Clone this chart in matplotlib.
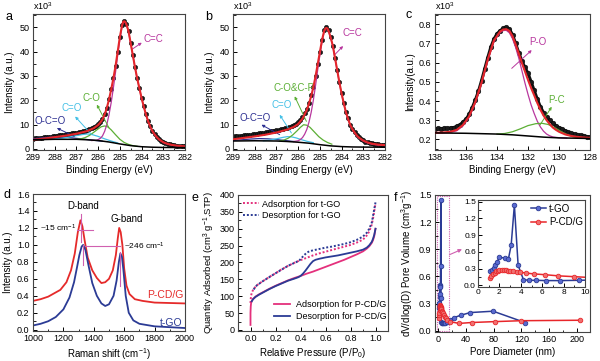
import numpy as np
import matplotlib
matplotlib.use("Agg")
import matplotlib.pyplot as plt
from matplotlib.ticker import MultipleLocator
from matplotlib.patches import Rectangle

plt.rcParams['font.family'] = ['Liberation Sans', 'DejaVu Sans']
plt.rcParams['mathtext.fontset'] = 'custom'
plt.rcParams['mathtext.rm'] = 'Liberation Sans'
plt.rcParams['mathtext.it'] = 'Liberation Sans:italic'
plt.rcParams['font.size'] = 7
plt.rcParams['axes.linewidth'] = 0.8

# ---------------- data: panel a (C1s, t-GO) ----------------
a_be = np.round(np.arange(289.0, 281.95, -0.1), 1)
a_dots = [4.2, 4.3, 4.4, 4.5, 4.6, 4.7, 4.8, 4.9, 5.05, 5.2,
          5.3, 5.45, 5.55, 5.7, 5.8, 5.95, 6.1, 6.25, 6.4, 6.55,
          6.7, 6.85, 7.05, 7.25, 7.5, 7.7, 8.0, 8.4, 8.8, 9.4,
          10.1, 11.0, 12.3, 14.3, 17.0, 20.5, 24.5, 29.0, 34.0, 40.0,
          46.0, 51.0, 52.6, 51.5, 48.5, 43.5, 38.5, 33.5, 29.0, 25.0,
          21.0, 17.5, 14.3, 11.5, 9.2, 7.4, 6.0, 4.9, 4.0, 3.3,
          2.8, 2.4, 2.1, 1.85, 1.65, 1.5, 1.35, 1.25, 1.15, 1.05, 1.0]
a_fit_x = [289, 288.5, 288, 287.5, 287, 286.5, 286.2, 286.0, 285.9, 285.8,
           285.7, 285.6, 285.5, 285.4, 285.3, 285.2, 285.1, 285.0, 284.9, 284.85,
           284.8, 284.75, 284.7, 284.6, 284.5, 284.4, 284.3, 284.2, 284.1, 284.0,
           283.9, 283.8, 283.7, 283.6, 283.5, 283.4, 283.3, 283.2, 283.0, 282.8,
           282.6, 282.3, 282.0]
a_fit_y = [3.7, 4.2, 4.8, 5.4, 6.2, 7.3, 8.5, 9.8, 10.8, 12.1,
           14.1, 16.8, 20.3, 24.4, 28.9, 34.0, 40.0, 46.0, 50.8, 52.2,
           52.5, 52.2, 51.3, 48.4, 43.4, 38.4, 33.4, 28.9, 24.9, 20.9,
           17.4, 14.2, 11.4, 9.1, 7.3, 5.9, 4.8, 3.9, 2.7, 2.0,
           1.6, 1.2, 1.0]
a_cc_x = [286.3, 286.1, 286.0, 285.9, 285.8, 285.7, 285.6, 285.5, 285.4, 285.3,
          285.2, 285.1, 285.0, 284.9, 284.85, 284.8, 284.75, 284.7, 284.6, 284.5,
          284.4, 284.3, 284.2, 284.1, 284.0, 283.9, 283.8, 283.7, 283.6, 283.5,
          283.4, 283.3, 283.2, 283.0, 282.8, 282.6, 282.3, 282.0]
a_cc_y = [3.4, 3.5, 3.8, 4.3, 5.3, 7.2, 10.0, 14.0, 19.0, 25.0,
          31.5, 38.5, 45.0, 50.3, 52.0, 52.4, 52.1, 51.2, 48.3, 43.3,
          38.3, 33.3, 28.8, 24.8, 20.8, 17.3, 14.1, 11.3, 9.0, 7.2,
          5.8, 4.7, 3.8, 2.6, 1.9, 1.5, 1.1, 0.9]
a_co_x = [287.0, 286.8, 286.6, 286.4, 286.2, 286.0, 285.85, 285.7, 285.55, 285.4,
          285.2, 285.0, 284.8, 284.6, 284.4, 284.2]
a_co_y = [3.9, 4.1, 4.6, 5.5, 6.8, 8.2, 9.1, 9.4, 9.0, 7.8, 5.8, 3.9, 2.6, 1.8, 1.3, 1.0]
a_c2o_x = [288.2, 287.8, 287.4, 287.0, 286.7, 286.5, 286.3, 286.0, 285.7, 285.4, 285.1]
a_c2o_y = [3.9, 4.2, 4.7, 5.4, 5.9, 6.1, 5.9, 5.1, 4.1, 3.2, 2.4]
a_occo_x = [289.0, 288.6, 288.2, 287.8, 287.4, 287.0, 286.6, 286.2, 285.8]
a_occo_y = [4.1, 4.5, 4.8, 4.9, 4.7, 4.3, 3.9, 3.5, 3.1]
a_bg_x = [289, 288, 287, 286.5, 286, 285.5, 285, 284.5, 284, 283.5, 283, 282]
a_bg_y = [3.7, 3.9, 3.9, 3.7, 3.4, 2.8, 2.0, 1.3, 0.85, 0.65, 0.55, 0.5]

# ---------------- data: panel b (C1s, P-CD/G) ----------------
b_be = np.round(np.arange(289.0, 281.95, -0.1), 1)
b_dots = [5.0, 5.1, 5.2, 5.3, 5.4, 5.5, 5.6, 5.7, 5.85, 6.0,
          6.1, 6.25, 6.4, 6.55, 6.7, 6.85, 7.0, 7.15, 7.3, 7.45,
          7.6, 7.8, 8.0, 8.2, 8.45, 8.7, 9.0, 9.4, 9.8, 10.3,
          10.9, 11.8, 13.0, 14.7, 16.5, 19.0, 22.0, 25.5, 30.0, 35.0,
          40.0, 45.0, 48.8, 50.0, 48.8, 46.0, 42.5, 37.5, 32.5, 27.5,
          23.0, 19.0, 15.3, 12.5, 10.0, 8.3, 6.9, 5.7, 4.8, 4.1,
          3.5, 3.0, 2.7, 2.4, 2.2, 2.0, 1.9, 1.8, 1.7, 1.65, 1.6]
b_fit_x = [289, 288.5, 288, 287.5, 287, 286.5, 286.2, 286.0, 285.8, 285.6,
           285.5, 285.4, 285.3, 285.2, 285.1, 285.0, 284.9, 284.8, 284.75, 284.7,
           284.65, 284.6, 284.5, 284.4, 284.3, 284.2, 284.1, 284.0, 283.9, 283.8,
           283.7, 283.6, 283.5, 283.4, 283.3, 283.2, 283.0, 282.8, 282.6, 282.3,
           282.0]
b_fit_y = [3.9, 4.5, 5.1, 5.8, 6.7, 7.9, 9.0, 10.2, 12.4, 16.0,
           18.6, 21.7, 25.3, 29.8, 34.8, 39.8, 44.8, 48.6, 49.5, 49.8,
           49.5, 48.6, 45.8, 42.3, 37.3, 32.3, 27.3, 22.8, 18.8, 15.1,
           12.3, 9.8, 8.1, 6.7, 5.5, 4.6, 3.4, 2.6, 2.1, 1.7,
           1.5]
b_cc_x = [286.2, 286.0, 285.9, 285.8, 285.7, 285.6, 285.5, 285.4, 285.3, 285.2,
          285.1, 285.0, 284.9, 284.8, 284.75, 284.7, 284.65, 284.6, 284.5, 284.4,
          284.3, 284.2, 284.1, 284.0, 283.9, 283.8, 283.7, 283.6, 283.5, 283.4,
          283.3, 283.2, 283.0, 282.8, 282.6, 282.3, 282.0]
b_cc_y = [3.0, 3.3, 3.8, 4.6, 6.0, 8.0, 11.0, 15.0, 20.0, 26.0,
          32.5, 38.5, 44.0, 48.3, 49.3, 49.6, 49.3, 48.4, 45.6, 42.1,
          37.1, 32.1, 27.1, 22.6, 18.6, 14.9, 12.1, 9.6, 7.9, 6.5,
          5.3, 4.4, 3.2, 2.4, 1.9, 1.5, 1.3]
b_co_x = [286.85, 286.65, 286.45, 286.25, 286.05, 285.9, 285.75, 285.6, 285.45, 285.25,
          285.05, 284.85, 284.65, 284.45]
b_co_y = [3.2, 3.6, 4.4, 5.7, 7.4, 8.8, 9.9, 9.7, 8.8, 6.9, 5.0, 3.6, 2.6, 1.9]
b_c2o_x = [287.6, 287.3, 287.0, 286.7, 286.5, 286.3, 286.1, 285.9, 285.6, 285.3]
b_c2o_y = [3.3, 3.6, 4.1, 4.7, 5.0, 4.9, 4.5, 3.9, 3.1, 2.5]
b_occo_x = [289.0, 288.6, 288.2, 287.8, 287.4, 287.0, 286.6, 286.2]
b_occo_y = [3.4, 3.7, 4.0, 4.2, 4.1, 3.8, 3.4, 3.0]
b_bg_x = [289, 288, 287, 286.5, 286, 285.5, 285, 284.5, 284, 283.5, 283, 282]
b_bg_y = [3.2, 3.3, 3.2, 3.0, 2.7, 2.3, 1.7, 1.2, 0.9, 0.75, 0.7, 0.65]

# ---------------- data: panel c (P2p) ----------------
c_be = np.round(np.arange(138.0, 127.95, -0.2), 1)
c_dots = [0.255, 0.257, 0.256, 0.258, 0.257, 0.260, 0.262, 0.268, 0.276, 0.290,
          0.305, 0.330, 0.365, 0.405, 0.450, 0.505, 0.565, 0.625, 0.680, 0.722,
          0.750, 0.766, 0.778, 0.783, 0.775, 0.745, 0.700, 0.652, 0.610, 0.575,
          0.545, 0.500, 0.455, 0.410, 0.370, 0.340, 0.318, 0.300, 0.285, 0.272,
          0.262, 0.254, 0.245, 0.237, 0.232, 0.228, 0.224, 0.221, 0.218, 0.215, 0.212]
c_fit_x = [138, 137.5, 137, 136.6, 136.2, 135.8, 135.4, 135.0, 134.6, 134.2,
           133.8, 133.6, 133.4, 133.2, 133.0, 132.8, 132.6, 132.4, 132.2, 132.0,
           131.8, 131.6, 131.4, 131.2, 131.0, 130.8, 130.6, 130.4, 130.2, 130.0,
           129.6, 129.2, 128.8, 128.4, 128.0]
c_fit_y = [0.234, 0.236, 0.240, 0.250, 0.275, 0.320, 0.395, 0.495, 0.615, 0.715,
           0.762, 0.772, 0.774, 0.765, 0.738, 0.695, 0.648, 0.600, 0.555, 0.510,
           0.468, 0.430, 0.390, 0.355, 0.325, 0.300, 0.280, 0.262, 0.250, 0.240,
           0.226, 0.218, 0.213, 0.210, 0.208]
c_po_x = [138, 137.5, 137, 136.6, 136.2, 135.8, 135.4, 135.0, 134.6, 134.2,
          133.8, 133.6, 133.4, 133.2, 133.0, 132.8, 132.6, 132.4, 132.2, 132.0,
          131.8, 131.6, 131.4, 131.2, 131.0, 130.8, 130.6, 130.4, 130.0, 129.5]
c_po_y = [0.233, 0.234, 0.237, 0.245, 0.270, 0.315, 0.390, 0.490, 0.610, 0.710,
          0.757, 0.767, 0.768, 0.755, 0.725, 0.680, 0.625, 0.560, 0.495, 0.435,
          0.380, 0.335, 0.295, 0.265, 0.243, 0.228, 0.219, 0.213, 0.209, 0.207]
c_pc_x = [134.0, 133.5, 133.0, 132.5, 132.0, 131.5, 131.1, 130.7, 130.3, 129.9,
          129.5, 129.1, 128.8]
c_pc_y = [0.228, 0.231, 0.240, 0.255, 0.272, 0.282, 0.284, 0.278, 0.262, 0.243,
          0.226, 0.214, 0.209]
c_bg_x = [138, 136, 134, 133, 132, 131, 130, 128]
c_bg_y = [0.234, 0.232, 0.228, 0.224, 0.218, 0.212, 0.208, 0.205]

# ---------------- data: panel d (Raman) ----------------
d_pcd_x = [1000, 1050, 1100, 1150, 1180, 1220, 1250, 1275, 1295, 1312,
           1325, 1340, 1360, 1390, 1420, 1450, 1475, 1500, 1525, 1545,
           1558, 1567, 1577, 1588, 1600, 1615, 1635, 1670, 1720, 1800,
           1900, 2000]
d_pcd_y = [0.34, 0.36, 0.39, 0.44, 0.47, 0.56, 0.70, 0.90, 1.15, 1.29,
           1.22, 1.05, 0.85, 0.70, 0.61, 0.55, 0.56, 0.60, 0.70, 0.88,
           1.08, 1.20, 1.15, 1.00, 0.72, 0.52, 0.42, 0.36, 0.34, 0.32,
           0.315, 0.31]
d_tgo_x = [1000, 1050, 1100, 1150, 1200, 1240, 1270, 1290, 1305, 1320,
           1330, 1345, 1365, 1390, 1420, 1450, 1475, 1500, 1530, 1550,
           1565, 1575, 1585, 1595, 1610, 1630, 1660, 1700, 1800, 1900,
           2000]
d_tgo_y = [0.05, 0.07, 0.10, 0.15, 0.24, 0.38, 0.56, 0.74, 0.88, 0.98,
           1.00, 0.94, 0.76, 0.55, 0.40, 0.31, 0.28, 0.30, 0.40, 0.58,
           0.80, 0.90, 0.86, 0.70, 0.40, 0.20, 0.11, 0.07, 0.04, 0.03,
           0.02]

# ---------------- data: panel e (N2 isotherms) ----------------
e_ads_tgo_p = [0.0, 0.002, 0.005, 0.01, 0.02, 0.035, 0.05, 0.075, 0.1, 0.15,
               0.2, 0.25, 0.3, 0.35, 0.4, 0.45, 0.5, 0.55, 0.6, 0.65,
               0.7, 0.75, 0.8, 0.85, 0.9, 0.93, 0.95, 0.97, 0.98, 0.99, 1.0]
e_ads_tgo_q = [80, 92, 102, 110, 118, 126, 132, 139, 145, 157,
               168, 180, 190, 199, 207, 214, 221, 227, 232, 237,
               242, 247, 252, 259, 268, 280, 292, 312, 330, 352, 375]
e_des_tgo_p = [1.0, 0.99, 0.98, 0.97, 0.95, 0.93, 0.9, 0.85, 0.8, 0.75,
               0.7, 0.65, 0.6, 0.55, 0.5, 0.47, 0.45, 0.43, 0.41, 0.39,
               0.37, 0.3, 0.2, 0.1, 0.05, 0.02]
e_des_tgo_q = [378, 358, 338, 318, 300, 288, 277, 267, 260, 255,
               251, 247, 244, 240, 236, 233, 229, 222, 214, 206,
               202, 190, 168, 145, 132, 118]
e_ads_pcd_p = [0.0, 0.0, 0.002, 0.005, 0.01, 0.02, 0.04, 0.07, 0.1, 0.15,
               0.2, 0.25, 0.3, 0.35, 0.4, 0.45, 0.5, 0.55, 0.6, 0.65,
               0.7, 0.75, 0.8, 0.85, 0.9, 0.93, 0.95, 0.97, 0.98, 0.99, 1.0]
e_ads_pcd_q = [15, 50, 70, 80, 86, 92, 99, 106, 112, 122,
               131, 139, 147, 154, 160, 167, 173, 180, 187, 194,
               201, 208, 216, 224, 233, 241, 248, 258, 266, 278, 300]
e_des_pcd_p = [1.0, 0.99, 0.98, 0.97, 0.95, 0.93, 0.9, 0.85, 0.8, 0.75,
               0.7, 0.65, 0.6, 0.55, 0.52, 0.5, 0.48, 0.46, 0.44, 0.42,
               0.40, 0.38, 0.35, 0.3, 0.25, 0.2, 0.15, 0.1, 0.07, 0.04,
               0.02, 0.01]
e_des_pcd_q = [300, 282, 270, 261, 251, 244, 238, 233, 229, 225,
               221, 218, 215, 211, 208, 204, 196, 186, 176, 167,
               160, 156, 152, 146, 138, 130, 121, 111, 105, 98,
               91, 85]

# ---------------- data: panel f (pore size distribution) ----------------
f_tgo_d = [1.15, 1.3, 1.45, 1.6, 1.75, 2.0, 2.55, 2.85, 3.1, 3.4,
           3.75, 4.25, 4.8, 5.4, 6.4, 7.7, 9.4, 12, 17, 23,
           32, 46, 79, 125]
f_tgo_v = [0.25, 0.28, 0.31, 0.37, 0.41, 0.50, 0.49, 0.48, 0.72, 1.44,
           0.36, 0.10, 0.09, 0.09, 0.085, 0.085, 0.09, 0.10, 0.12, 0.145,
           0.17, 0.20, 0.215, 0.09]
f_pcd_d = [1.1, 1.25, 1.4, 1.55, 1.7, 1.85, 2.0, 2.2, 2.4, 2.6,
           2.8, 3.0, 3.3, 3.6, 3.9, 4.5, 5.2, 6.3, 7.5, 9.0,
           10.5, 13, 16, 30, 48, 82, 120, 205]
f_pcd_v = [0.14, 0.17, 0.20, 0.23, 0.25, 0.265, 0.275, 0.28, 0.275, 0.27,
           0.265, 0.26, 0.25, 0.245, 0.235, 0.22, 0.205, 0.19, 0.17, 0.155,
           0.14, 0.12, 0.10, 0.08, 0.09, 0.10, 0.11, 0.115]

# ---------------- colours ----------------
RED = '#e3262b'
MAG = '#b8379e'
GRN = '#5caf35'
CYN = '#45c0e6'
NAV = '#2e3192'
PINK = '#e4307c'
BLUE = '#2b3b95'

W, H = 600, 361
fig = plt.figure(figsize=(6, 3.61), dpi=100)


def box(l, t, r, b):
    return [l / W, 1 - b / H, (r - l) / W, (b - t) / H]


def style(ax, xmaj, xmin, ymaj, ymin, ls=6.5):
    ax.xaxis.set_major_locator(MultipleLocator(xmaj))
    ax.xaxis.set_minor_locator(MultipleLocator(xmin))
    ax.yaxis.set_major_locator(MultipleLocator(ymaj))
    ax.yaxis.set_minor_locator(MultipleLocator(ymin))
    ax.tick_params(which='both', direction='in', top=False, right=False,
                   labelsize=ls)
    ax.tick_params(axis='x', pad=2.5)
    ax.tick_params(axis='y', pad=2.5)
    ax.tick_params(which='major', length=3, width=0.7)
    ax.tick_params(which='minor', length=1.8, width=0.6)
    for s in ax.spines.values():
        s.set_color('#444444')


def arrow(ax, xy_from, xy_to, color):
    ax.annotate('', xy=xy_to, xytext=xy_from,
                arrowprops=dict(arrowstyle='-|>', color=color, lw=0.7,
                                mutation_scale=4, shrinkA=0, shrinkB=0))


def xps(ax, be, dots, comps, fitx, fity, bgx, bgy):
    ax.plot(be, dots, 'o', ms=3.2, mfc='#1a1a1a', mec='#000000', mew=0.3, zorder=2)
    for (cx, cy, col) in comps:
        ax.plot(cx, cy, color=col, lw=0.9, zorder=3)
    ax.plot(fitx, fity, color=RED, lw=1.5, zorder=4)
    ax.plot(bgx, bgy, color='k', lw=1.1, zorder=5)


# ---------------- panel a ----------------
ax = fig.add_axes(box(33, 14, 185, 150))
xps(ax, a_be, a_dots,
    [(a_occo_x, a_occo_y, NAV), (a_c2o_x, a_c2o_y, CYN), (a_co_x, a_co_y, GRN),
     (a_cc_x, a_cc_y, MAG)],
    a_fit_x, a_fit_y, a_bg_x, a_bg_y)
ax.set_xlim(289, 282)
ax.set_ylim(-0.5, 55.5)
style(ax, 1, 0.5, 10, 5)
ax.set_xlabel('Binding Energy (eV)', fontsize=7, labelpad=2)
ax.set_ylabel('Intensity (a.u.)', fontsize=7, labelpad=3)
ax.text(0, 1.015, r'x10$^3$', transform=ax.transAxes, fontsize=6.5, ha='left', va='bottom')
ax.text(283.9, 45, 'C=C', color=MAG, fontsize=7, ha='left', va='center')
arrow(ax, (284.45, 40.9), (283.99, 43.7), MAG)
ax.text(286.3, 21, 'C-O', color=GRN, fontsize=7, ha='center', va='center')
arrow(ax, (285.5, 8.6), (286.06, 18.2), GRN)
ax.text(287.2, 16.8, 'C=O', color=CYN, fontsize=7, ha='center', va='center')
arrow(ax, (286.3, 5.8), (287.06, 13.3), CYN)
ax.text(288.2, 11.3, 'O-C=O', color=NAV, fontsize=7, ha='center', va='center')
arrow(ax, (287.1, 5.1), (287.9, 8.55), NAV)

# ---------------- panel b ----------------
ax = fig.add_axes(box(233, 14, 385, 150))
xps(ax, b_be, b_dots,
    [(b_occo_x, b_occo_y, NAV), (b_c2o_x, b_c2o_y, CYN), (b_co_x, b_co_y, GRN),
     (b_cc_x, b_cc_y, MAG)],
    b_fit_x, b_fit_y, b_bg_x, b_bg_y)
ax.set_xlim(289, 282)
ax.set_ylim(-0.5, 55.5)
style(ax, 1, 0.5, 10, 5)
ax.set_xlabel('Binding Energy (eV)', fontsize=7, labelpad=2)
ax.set_ylabel('Intensity (a.u.)', fontsize=7, labelpad=3)
ax.text(0, 1.015, r'x10$^3$', transform=ax.transAxes, fontsize=6.5, ha='left', va='bottom')
ax.text(283.94, 47.8, 'C=C', color=MAG, fontsize=7, ha='left', va='center')
arrow(ax, (284.31, 38.8), (283.93, 42.3), MAG)
ax.text(286.2, 25.1, 'C-O&C-P', color=GRN, fontsize=7, ha='center', va='center')
arrow(ax, (285.62, 11.3), (286.16, 21.6), GRN)
ax.text(286.77, 18.2, 'C=O', color=CYN, fontsize=7, ha='center', va='center')
arrow(ax, (286.31, 6.5), (286.85, 14.0), CYN)
ax.text(288.0, 12.7, 'O-C=O', color=NAV, fontsize=7, ha='center', va='center')
arrow(ax, (286.85, 5.8), (287.69, 9.9), NAV)

# ---------------- panel c ----------------
ax = fig.add_axes(box(435, 14, 590, 150))
ax.plot(c_be, c_dots, '-o', color='#111111', lw=2.2, ms=3.4, mfc='#1a1a1a',
        mec='#000000', mew=0.3, zorder=2)
ax.plot(c_po_x, c_po_y, color=MAG, lw=0.9, zorder=3)
ax.plot(c_pc_x, c_pc_y, color=GRN, lw=0.9, zorder=3)
ax.plot(c_fit_x, c_fit_y, color=RED, lw=1.5, zorder=4)
ax.plot(c_bg_x, c_bg_y, color='k', lw=1.1, zorder=5)
ax.set_xlim(138, 128)
ax.set_ylim(0.145, 0.853)
style(ax, 2, 1, 0.1, 0.05)
ax.set_xlabel('Binding Energy (eV)', fontsize=7, labelpad=2)
ax.set_ylabel('Intensity(a.u.)', fontsize=7, labelpad=3)
ax.text(0, 1.015, r'x10$^3$', transform=ax.transAxes, fontsize=6.5, ha='left', va='bottom')
ax.text(131.34, 0.708, 'P-O', color=MAG, fontsize=7, ha='center', va='center')
arrow(ax, (133.05, 0.57), (131.76, 0.665), MAG)
ax.text(130.15, 0.405, 'P-C', color=GRN, fontsize=7, ha='center', va='center')
arrow(ax, (131.23, 0.275), (130.47, 0.37), GRN)

# ---------------- panel d ----------------
ax = fig.add_axes(box(33, 194, 185, 331))
ax.plot(d_pcd_x, d_pcd_y, color='#e52a2a', lw=1.3)
ax.plot(d_tgo_x, d_tgo_y, color=BLUE, lw=1.3)
ax.set_xlim(1000, 2000)
ax.set_ylim(-0.015, 1.6)
style(ax, 200, 100, 0.2, 0.1)
ax.set_xlabel(r'Raman shift (cm$^{-1}$)', fontsize=7, labelpad=2)
ax.set_ylabel('Intensity (a.u.)', fontsize=7, labelpad=3)
AN = '#d060b0'
ax.plot([1314, 1314], [1.04, 1.36], color=AN, lw=0.8)
ax.plot([1329, 1329], [0.765, 1.0], color=AN, lw=0.8)
ax.plot([1290, 1395], [1.18, 1.18], color=AN, lw=0.8)
ax.plot([1340, 1575], [0.99, 0.99], color=AN, lw=0.8)
ax.plot([1575, 1575], [0.51, 0.92], color=AN, lw=0.8)
ax.text(1329, 1.455, 'D-band', fontsize=7, ha='center', va='center')
ax.text(1614, 1.30, 'G-band', fontsize=7, ha='center', va='center')
ax.text(1045, 1.20, r'~15 cm$^{-1}$', fontsize=6, ha='left', va='center')
ax.text(1600, 0.98, r'~246 cm$^{-1}$', fontsize=6, ha='left', va='center')
ax.text(1872, 0.41, 'P-CD/G', color='#e52a2a', fontsize=7.5, ha='center', va='center')
ax.text(1910, 0.075, 't-GO', color=BLUE, fontsize=7.5, ha='center', va='center')

# ---------------- panel e ----------------
ax = fig.add_axes(box(238, 195, 388, 331))
l1, = ax.plot(e_ads_tgo_p, e_ads_tgo_q, ls=(0, (1, 1)), color=PINK, lw=1.4)
l2, = ax.plot(e_des_tgo_p, e_des_tgo_q, ls=(0, (1, 1)), color=BLUE, lw=1.4)
l3, = ax.plot(e_ads_pcd_p, e_ads_pcd_q, color=PINK, lw=1.3)
l4, = ax.plot(e_des_pcd_p, e_des_pcd_q, color=BLUE, lw=1.3)
ax.set_xlim(-0.1, 1.1)
ax.set_ylim(-3, 400)
style(ax, 0.2, 0.1, 50, 25)
ax.set_xlabel(r'Relative Pressure (P/P$_0$)', fontsize=7, labelpad=2)
ax.set_ylabel(r'Quantity Adsorbed (cm$^3$ g$^{-1}$,STP)', fontsize=6.8, labelpad=2)
leg1 = ax.legend([l1, l2], ['Adsorption for t-GO', 'Desorption for t-GO'],
                 loc='upper left', bbox_to_anchor=(0.02, 0.98), frameon=False,
                 fontsize=6.5, handlelength=1.8, handletextpad=0.3,
                 labelspacing=0.3, borderpad=0.2, borderaxespad=0)
ax.add_artist(leg1)
ax.legend([l3, l4], ['Adsorption for P-CD/G', 'Desorption for P-CD/G'],
          loc='lower right', bbox_to_anchor=(1.0, 0.06), frameon=False,
          fontsize=6.5, handlelength=1.8, handletextpad=0.6,
          labelspacing=0.3, borderpad=0.2, borderaxespad=0)

# ---------------- panel f ----------------
ax = fig.add_axes(box(435, 195, 590, 332))
ax.plot(f_tgo_d, f_tgo_v, '-o', color=BLUE, lw=1.1, ms=3.3, mfc='#5a6ad0',
        mec=BLUE, mew=0.6)
ax.plot(f_pcd_d, f_pcd_v, '-o', color='#e8262a', lw=1.1, ms=3.3, mfc='#f07070',
        mec='#e8262a', mew=0.6)
ax.set_xlim(-5, 219)
ax.set_ylim(-0.015, 1.5)
style(ax, 40, 20, 0.3, 0.15)
ax.set_xlabel('Pore Diameter (nm)', fontsize=7, labelpad=2)
ax.set_ylabel(r'dV/dlog(D) Pore Volume (cm$^3$g$^{-1}$)', fontsize=7, labelpad=3)
ax.add_patch(Rectangle((-1.5, 0.0), 16.5, 1.49, fill=False, ec='#d060b0',
                       ls=(0, (1, 1)), lw=0.8))
ax.annotate('', xy=(34, 0.9), xytext=(16, 0.84),
            arrowprops=dict(arrowstyle='-|>', color='#d060b0', lw=0.8,
                            mutation_scale=5, shrinkA=0, shrinkB=0))

ins = fig.add_axes(box(478, 200, 585, 287))
h1, = ins.plot(f_tgo_d, f_tgo_v, '-o', color=BLUE, lw=1.1, ms=3.3, mfc='#5a6ad0',
               mec=BLUE, mew=0.6)
h2, = ins.plot(f_pcd_d, f_pcd_v, '-o', color='#e8262a', lw=1.1, ms=3.3, mfc='#f07070',
               mec='#e8262a', mew=0.6)
ins.set_xlim(0, 10)
ins.set_ylim(-0.03, 1.53)
style(ins, 2, 1, 0.3, 0.15, ls=6)
ins.tick_params(which='both', pad=1.5)
ins.legend([h1, h2], ['t-GO', 'P-CD/G'], loc='upper right',
           bbox_to_anchor=(1.0, 0.98), frameon=False, fontsize=7,
           handlelength=1.6, handletextpad=0.3, labelspacing=0.35,
           borderpad=0.2, borderaxespad=0)

# ---------------- panel letters ----------------
for (x, y, s) in [(5, 17, 'a'), (205, 17, 'b'), (405, 15, 'c'),
                  (4, 195, 'd'), (192, 198, 'e'), (394, 198, 'f')]:
    fig.text(x / W, 1 - y / H, s, fontsize=9, ha='left', va='center')

fig.savefig('out.png', dpi=100)
